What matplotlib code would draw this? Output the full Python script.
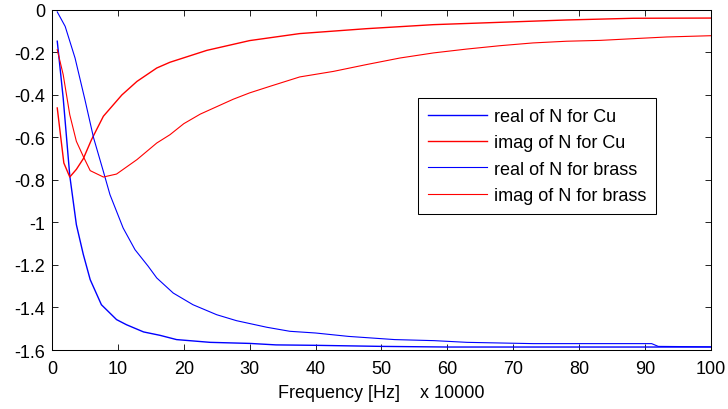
import matplotlib

matplotlib.use("Agg")
import matplotlib.pyplot as plt
from matplotlib.ticker import FixedLocator, FuncFormatter

# frequency axis is in units of 10 kHz
CU_REAL_X = [0.8, 1.7, 2.7, 3.7, 4.75, 5.8, 7.5, 9.8, 11.3, 13.9, 16.4, 18.9, 24, 30, 34, 40,
             50, 60, 80, 100]
CU_REAL_Y = [-0.147, -0.414, -0.78, -1.01, -1.15, -1.269, -1.387, -1.457, -1.481, -1.515, -1.531,
             -1.551, -1.564, -1.569, -1.576, -1.578, -1.583, -1.586, -1.586, -1.586]

CU_IMAG_X = [0.8, 1.8, 2.7, 3.7, 4.75, 6, 7.8, 10.6, 12.9, 15.9, 17.9, 20, 23.5, 30, 37.6, 47.7,
             57.9, 68, 78.1, 88.2, 100]
CU_IMAG_Y = [-0.461, -0.72, -0.786, -0.75, -0.70, -0.61, -0.50, -0.40, -0.336, -0.273, -0.246,
             -0.225, -0.19, -0.144, -0.111, -0.088, -0.069, -0.058, -0.047, -0.039, -0.038]

BRASS_REAL_X = [0.8, 2, 3.5, 5, 6.3, 7.8, 8.8, 10.8, 12.6, 14.6, 15.9, 18.4, 21.4, 25, 28,
                32.6, 36.1, 40, 45, 52, 58, 63, 73, 91, 92, 100]
BRASS_REAL_Y = [-0.009, -0.077, -0.226, -0.422, -0.60, -0.76, -0.869, -1.026, -1.128, -1.206,
                -1.261, -1.332, -1.387, -1.434, -1.462, -1.493, -1.512, -1.52, -1.536, -1.551,
                -1.556, -1.564, -1.570, -1.570, -1.583, -1.585]

BRASS_IMAG_X = [0.8, 1.7, 2.7, 3.7, 4.75, 5.8, 7.8, 9.8, 12.9, 15.9, 17.9, 20, 22.5, 25, 27.5,
                30, 33, 37.6, 42.7, 47.7, 52.8, 57.9, 62.9, 68, 73, 78.1, 83.2, 88.2, 93.3, 100]
BRASS_IMAG_Y = [-0.187, -0.304, -0.493, -0.618, -0.689, -0.756, -0.786, -0.772, -0.704, -0.626,
                -0.587, -0.535, -0.49, -0.455, -0.42, -0.39, -0.36, -0.315, -0.289, -0.257,
                -0.226, -0.202, -0.184, -0.168, -0.155, -0.147, -0.143, -0.135, -0.127, -0.121]

X_TICKS = [0, 10, 20, 30, 40, 50, 60, 70, 80, 90, 100]
Y_TICKS = [0, -0.2, -0.4, -0.6, -0.8, -1.0, -1.2, -1.4, -1.6]

plt.rcParams.update(
    {
        "font.family": ["Liberation Sans", "DejaVu Sans"],
        "font.size": 13,
        "axes.unicode_minus": False,
        "axes.linewidth": 0.75,
    }
)

fig = plt.figure(figsize=(7.28, 4.10), dpi=100)
ax = fig.add_axes([0.0714, 0.1439, 0.9052, 0.8293])

ax.plot(CU_REAL_X, CU_REAL_Y, color="#0000FF", linewidth=1.0, label="real of N for Cu")
ax.plot(CU_IMAG_X, CU_IMAG_Y, color="#FF0000", linewidth=1.0, label="imag of N for Cu")
ax.plot(BRASS_REAL_X, BRASS_REAL_Y, color="#0000FF", linewidth=0.8, label="real of N for brass")
ax.plot(BRASS_IMAG_X, BRASS_IMAG_Y, color="#FF0000", linewidth=0.8, label="imag of N for brass")

ax.set_xlim(0, 100)
ax.set_ylim(-1.6, 0)
ax.xaxis.set_major_locator(FixedLocator(X_TICKS))
ax.yaxis.set_major_locator(FixedLocator(Y_TICKS))
ax.yaxis.set_major_formatter(FuncFormatter(lambda v, _: f"{v:g}"))
ax.tick_params(direction="in", length=4.3, width=0.6, top=True, right=True, color="black")
ax.tick_params(axis="x", pad=7)
ax.tick_params(axis="y", pad=5)
ax.set_xlabel("Frequency [Hz]    x 10000", labelpad=5)

ax.legend(
    loc="upper left",
    bbox_to_anchor=(0.555, 0.741),
    frameon=True,
    fancybox=False,
    shadow=False,
    framealpha=1.0,
    edgecolor="black",
    handlelength=3.3,
    handletextpad=0.35,
    borderpad=0.55,
    labelspacing=0.52,
    borderaxespad=0.0,
)
ax.get_legend().get_frame().set_linewidth(0.75)

fig.savefig("out.png", dpi=100)
